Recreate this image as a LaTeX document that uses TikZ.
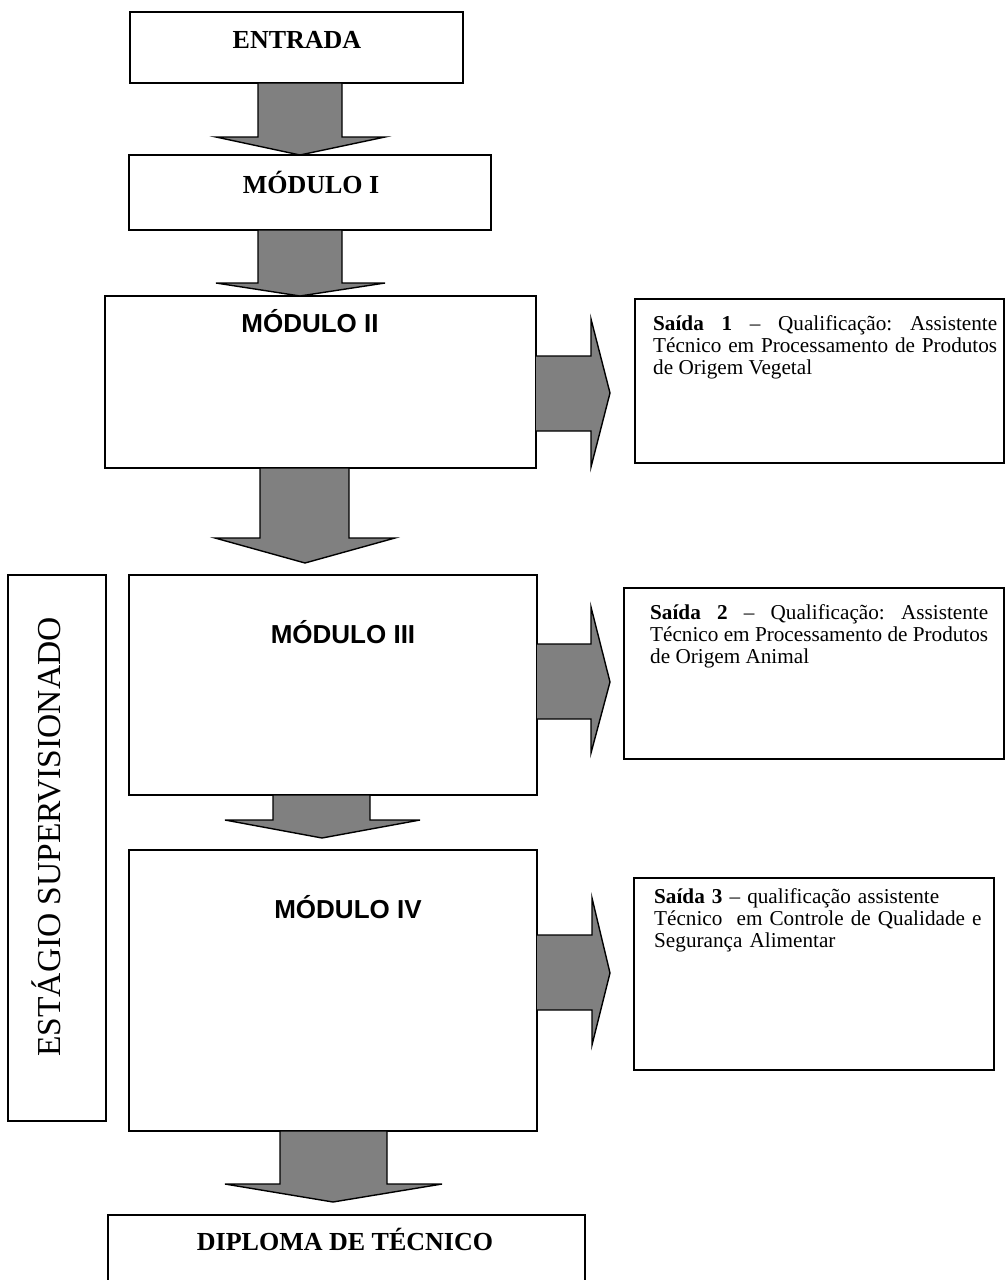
\documentclass[tikz,border=0pt]{standalone}
\usepackage{fontspec}
\setmainfont{Liberation Serif}
\setsansfont{Liberation Sans}
\definecolor{arrowgray}{RGB}{128,128,128}
\begin{document}
\hyphenpenalty=10000
\exhyphenpenalty=10000
\frenchspacing
\begin{tikzpicture}[x=1pt,y=-1pt,
  box/.style={draw=black,line width=1.6pt,anchor=north west,inner sep=0pt,outer sep=0pt,fill=white},
  blockarrow/.style={draw=black,line width=1.4pt,fill=arrowgray,line join=miter},
  titletimes/.style={font=\fontsize{26}{30}\selectfont\bfseries,inner sep=0pt},
  titlearial/.style={font=\fontsize{26}{30}\selectfont\sffamily\bfseries,inner sep=0pt},
  saidatext/.style={font=\fontsize{21.2}{22}\selectfont,inner sep=0pt,anchor=north west}
]
\useasboundingbox (0,0) rectangle (1006,1280);
\fill[white] (0,0) rectangle (1006,1280);

% boxes
\node[box,minimum width=333pt,minimum height=71pt] (entrada) at (130,12) {};
\node[box,minimum width=362pt,minimum height=75pt] (mod1) at (129,155) {};
\node[box,minimum width=431pt,minimum height=172pt] (mod2) at (105,296) {};
\node[box,minimum width=369pt,minimum height=164pt] (saida1) at (635,299) {};
\node[box,minimum width=98pt,minimum height=546pt] (estagio) at (8,575) {};
\node[box,minimum width=408pt,minimum height=220pt] (mod3) at (129,575) {};
\node[box,minimum width=380pt,minimum height=171pt] (saida2) at (624,588) {};
\node[box,minimum width=408pt,minimum height=281pt] (mod4) at (129,850) {};
\node[box,minimum width=360pt,minimum height=192pt] (saida3) at (634,878) {};
\node[box,minimum width=477pt,minimum height=90pt] (diploma) at (108,1215) {};

% block arrows down
\draw[blockarrow] (258,83) -- (342,83) -- (342,137) -- (385,137) -- (300,155) -- (216,137) -- (258,137) -- cycle;
\draw[blockarrow] (258,230) -- (342,230) -- (342,283) -- (385,283) -- (300,296) -- (216,283) -- (258,283) -- cycle;
\draw[blockarrow] (260,468) -- (349,468) -- (349,538) -- (395,538) -- (305,563) -- (215,538) -- (260,538) -- cycle;
\draw[blockarrow] (273,795) -- (370,795) -- (370,820) -- (420,820) -- (322,838) -- (225,820) -- (273,820) -- cycle;
\draw[blockarrow] (280,1131) -- (387,1131) -- (387,1184) -- (442,1184) -- (333,1202) -- (225,1184) -- (280,1184) -- cycle;

% block arrows right
\draw[blockarrow] (536,356) -- (591,356) -- (591,319) -- (610,393) -- (591,467) -- (591,431) -- (536,431);
\draw[blockarrow] (537,644) -- (591,644) -- (591,607) -- (610,682) -- (591,753) -- (591,719) -- (537,719);
\draw[blockarrow] (537,935) -- (592,935) -- (592,898) -- (610,973) -- (592,1045) -- (592,1010) -- (537,1010);

% titles
\node[titletimes,anchor=base] (tentrada) at (297,48) {ENTRADA};
\node[titletimes,anchor=base] (tmod1) at (311,193) {MÓDULO I};
\node[titlearial,anchor=base] (tmod2) at (310,332) {MÓDULO II};
\node[titlearial,anchor=base] (tmod3) at (343,643) {MÓDULO III};
\node[titlearial,anchor=base] (tmod4) at (348,918) {MÓDULO IV};
\node[titletimes,anchor=base] (tdiploma) at (345,1250) {DIPLOMA DE TÉCNICO};
\node[font=\fontsize{33.5}{36}\selectfont,inner sep=0pt,anchor=base,rotate=90] (testagio) at (60,837) {ESTÁGIO SUPERVISIONADO};

% saida texts
\node[saidatext,text width=344pt,align=justify] (tsaida1) at (653,315) {\textbf{Saída 1} – Qualificação: Assistente Técnico em Processamento de Produtos de Origem Vegetal};
\node[saidatext,text width=338pt,align=justify] (tsaida2) at (650,604) {\textbf{Saída 2} – Qualificação: Assistente Técnico em Processamento de Produtos de Origem Animal};
\node[saidatext,text width=338pt,align=left] (tsaida3) at (654,888) {\textbf{Saída 3} – qualificação assistente\\Técnico\ \ em Controle de Qualidade e\\Segurança Alimentar};
\end{tikzpicture}
\end{document}
